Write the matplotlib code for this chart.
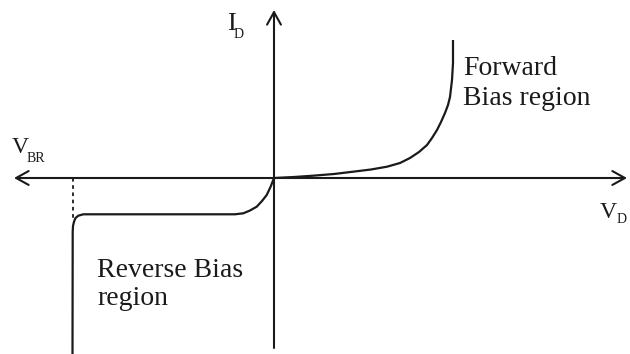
import matplotlib
matplotlib.use('Agg')
import matplotlib.pyplot as plt

# diode I-V sketch, arbitrary units (origin where the axes cross)
fwd_v = [0, 20, 39, 60, 79, 97, 113, 126, 136, 145, 153, 158, 163, 167, 171, 174, 176, 178, 179, 179]
fwd_i = [0, 1, 2.3, 4, 6.3, 8.5, 11.3, 15, 20, 26, 33, 40, 48, 56, 65, 73, 81, 98, 115, 138]

rev_v = [0, -3.5, -7.3, -12, -17.3, -24, -30.7, -39, -190.7, -195.7, -198.5, -200, -201, -201.3, -201.5]
rev_i = [0, -9, -17, -23, -28.7, -32.5, -35.3, -36.3, -36.3, -37.7, -40, -43.7, -48, -53.7, -178]

v_br = -201.3
i_knee = -40

x_axis = (-260, 353)
y_axis = (-170, 168)

INK = '#1a1a1a'
plt.rcParams['font.family'] = ['Liberation Serif', 'DejaVu Serif']

fig = plt.figure(figsize=(6.3, 3.54), dpi=100, facecolor='white')
ax = fig.add_axes([0, 0, 1, 1])
ax.set_xlim(-274, 356)
ax.set_ylim(-176, 178)
ax.set_axis_off()

arrow = dict(lw=1.5, color=INK, shrinkA=0, shrinkB=0, mutation_scale=20)
ax.annotate('', xy=(x_axis[1], 0), xytext=(x_axis[0], 0),
            arrowprops=dict(arrowstyle='<->,head_length=0.45,head_width=0.25', **arrow))
ax.annotate('', xy=(0, y_axis[1]), xytext=(0, y_axis[0]),
            arrowprops=dict(arrowstyle='->,head_length=0.45,head_width=0.25', **arrow))

ax.plot(fwd_v, fwd_i, color=INK, lw=1.6, solid_capstyle='butt')
ax.plot(rev_v, rev_i, color=INK, lw=1.6, solid_capstyle='butt')
ax.plot([v_br, v_br], [0, i_knee], color=INK, lw=1.3, ls=(0, (2, 2)))

txt = dict(color=INK, va='baseline', ha='left', clip_on=False)
ax.text(-47, 148, 'I', fontsize=19, **txt)
ax.text(-40, 140, 'D', fontsize=10, **txt)
ax.text(-262, 25, 'V', fontsize=17, **txt)
ax.text(-247, 16, 'BR', fontsize=10, **txt)
ax.text(326, -40, 'V', fontsize=17, **txt)
ax.text(343, -45, 'D', fontsize=10, **txt)

ax.text(189, 103, 'Forward', fontsize=20, **txt)
ax.text(189, 73, 'Bias region', fontsize=20, **txt)
ax.text(-177, -99, 'Reverse Bias', fontsize=20, **txt)
ax.text(-177, -127, 'region', fontsize=20, **txt)

fig.savefig('out.png', dpi=100, facecolor='white')
